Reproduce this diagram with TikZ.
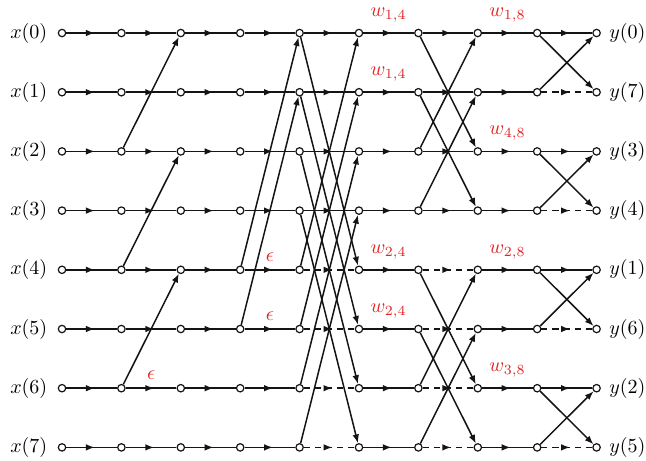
\documentclass[tikz,border=0pt]{standalone}
\usepackage{amsmath,amssymb}
\usepackage{xcolor}
\usepackage{tikz}
\usetikzlibrary{arrows.meta,positioning,decorations.markings}
\definecolor{figline}{RGB}{20,20,20}
\definecolor{figred}{RGB}{225,35,35}
\tikzset{
  vtx/.style   ={circle, draw=figline, fill=white, line width=0.6pt, inner sep=0pt, minimum size=3.7pt},
  fl/.style    ={draw=figline, line width=0.75pt},
  midarr/.style={fl, decoration={markings, mark=at position 0.56 with {\arrow{Latex[length=4.4pt,width=3.3pt]}}}, postaction={decorate}},
  dmidarr/.style={midarr, dash pattern=on 3pt off 2.5pt},
  dia/.style   ={fl, -{Latex[length=4.4pt,width=3.3pt]}},
  iolab/.style ={inner sep=1pt},
  wlab/.style  ={text=figred, inner sep=1pt, above=4pt},
  elab/.style  ={text=figred, inner sep=1pt, above=3pt},
}
\begin{document}
\begin{tikzpicture}[x=29.67pt,y=-29.57pt]
  \useasboundingbox (-1.044,-0.558) rectangle (9.832,7.225);
  % column 0
  \node[vtx] (n00) at (0,0) {};
  \node[vtx] (n01) at (0,1) {};
  \node[vtx] (n02) at (0,2) {};
  \node[vtx] (n03) at (0,3) {};
  \node[vtx] (n04) at (0,4) {};
  \node[vtx] (n05) at (0,5) {};
  \node[vtx] (n06) at (0,6) {};
  \node[vtx] (n07) at (0,7) {};
  % column 1
  \node[vtx] (n10) at (1,0) {};
  \node[vtx] (n11) at (1,1) {};
  \node[vtx] (n12) at (1,2) {};
  \node[vtx] (n13) at (1,3) {};
  \node[vtx] (n14) at (1,4) {};
  \node[vtx] (n15) at (1,5) {};
  \node[vtx] (n16) at (1,6) {};
  \node[vtx] (n17) at (1,7) {};
  % column 2
  \node[vtx] (n20) at (2,0) {};
  \node[vtx] (n21) at (2,1) {};
  \node[vtx] (n22) at (2,2) {};
  \node[vtx] (n23) at (2,3) {};
  \node[vtx] (n24) at (2,4) {};
  \node[vtx] (n25) at (2,5) {};
  \node[vtx] (n26) at (2,6) {};
  \node[vtx] (n27) at (2,7) {};
  % column 3
  \node[vtx] (n30) at (3,0) {};
  \node[vtx] (n31) at (3,1) {};
  \node[vtx] (n32) at (3,2) {};
  \node[vtx] (n33) at (3,3) {};
  \node[vtx] (n34) at (3,4) {};
  \node[vtx] (n35) at (3,5) {};
  \node[vtx] (n36) at (3,6) {};
  \node[vtx] (n37) at (3,7) {};
  % column 4
  \node[vtx] (n40) at (4,0) {};
  \node[vtx] (n41) at (4,1) {};
  \node[vtx] (n42) at (4,2) {};
  \node[vtx] (n43) at (4,3) {};
  \node[vtx] (n44) at (4,4) {};
  \node[vtx] (n45) at (4,5) {};
  \node[vtx] (n46) at (4,6) {};
  \node[vtx] (n47) at (4,7) {};
  % column 5
  \node[vtx] (n50) at (5,0) {};
  \node[vtx] (n51) at (5,1) {};
  \node[vtx] (n52) at (5,2) {};
  \node[vtx] (n53) at (5,3) {};
  \node[vtx] (n54) at (5,4) {};
  \node[vtx] (n55) at (5,5) {};
  \node[vtx] (n56) at (5,6) {};
  \node[vtx] (n57) at (5,7) {};
  % column 6
  \node[vtx] (n60) at (6,0) {};
  \node[vtx] (n61) at (6,1) {};
  \node[vtx] (n62) at (6,2) {};
  \node[vtx] (n63) at (6,3) {};
  \node[vtx] (n64) at (6,4) {};
  \node[vtx] (n65) at (6,5) {};
  \node[vtx] (n66) at (6,6) {};
  \node[vtx] (n67) at (6,7) {};
  % column 7
  \node[vtx] (n70) at (7,0) {};
  \node[vtx] (n71) at (7,1) {};
  \node[vtx] (n72) at (7,2) {};
  \node[vtx] (n73) at (7,3) {};
  \node[vtx] (n74) at (7,4) {};
  \node[vtx] (n75) at (7,5) {};
  \node[vtx] (n76) at (7,6) {};
  \node[vtx] (n77) at (7,7) {};
  % column 8
  \node[vtx] (n80) at (8,0) {};
  \node[vtx] (n81) at (8,1) {};
  \node[vtx] (n82) at (8,2) {};
  \node[vtx] (n83) at (8,3) {};
  \node[vtx] (n84) at (8,4) {};
  \node[vtx] (n85) at (8,5) {};
  \node[vtx] (n86) at (8,6) {};
  \node[vtx] (n87) at (8,7) {};
  % column 9
  \node[vtx] (n90) at (9,0) {};
  \node[vtx] (n91) at (9,1) {};
  \node[vtx] (n92) at (9,2) {};
  \node[vtx] (n93) at (9,3) {};
  \node[vtx] (n94) at (9,4) {};
  \node[vtx] (n95) at (9,5) {};
  \node[vtx] (n96) at (9,6) {};
  \node[vtx] (n97) at (9,7) {};
  % inputs and outputs
  \node[iolab,left=4pt of n00] (xin0) {$x(0)$};
  \node[iolab,left=4pt of n01] (xin1) {$x(1)$};
  \node[iolab,left=4pt of n02] (xin2) {$x(2)$};
  \node[iolab,left=4pt of n03] (xin3) {$x(3)$};
  \node[iolab,left=4pt of n04] (xin4) {$x(4)$};
  \node[iolab,left=4pt of n05] (xin5) {$x(5)$};
  \node[iolab,left=4pt of n06] (xin6) {$x(6)$};
  \node[iolab,left=4pt of n07] (xin7) {$x(7)$};
  \node[iolab,right=3pt of n90] (yout0) {$y(0)$};
  \node[iolab,right=3pt of n91] (yout7) {$y(7)$};
  \node[iolab,right=3pt of n92] (yout3) {$y(3)$};
  \node[iolab,right=3pt of n93] (yout4) {$y(4)$};
  \node[iolab,right=3pt of n94] (yout1) {$y(1)$};
  \node[iolab,right=3pt of n95] (yout6) {$y(6)$};
  \node[iolab,right=3pt of n96] (yout2) {$y(2)$};
  \node[iolab,right=3pt of n97] (yout5) {$y(5)$};
  % stage 0 -> 1
  \draw[midarr] (n00) -- (n10);
  \draw[midarr] (n01) -- (n11);
  \draw[midarr] (n02) -- (n12);
  \draw[midarr] (n03) -- (n13);
  \draw[midarr] (n04) -- (n14);
  \draw[midarr] (n05) -- (n15);
  \draw[midarr] (n06) -- (n16);
  \draw[midarr] (n07) -- (n17);
  % stage 1 -> 2
  \draw[midarr] (n10) -- (n20);
  \draw[midarr] (n11) -- (n21);
  \draw[midarr] (n12) -- (n22);
  \draw[midarr] (n13) -- (n23);
  \draw[midarr] (n14) -- (n24);
  \draw[midarr] (n15) -- (n25);
  \draw[midarr] (n16) -- node[elab] (eps1) {$\epsilon$} (n26);
  \draw[midarr] (n17) -- (n27);
  \draw[dia] (n12) -- (n20);
  \draw[dia] (n14) -- (n22);
  \draw[dia] (n16) -- (n24);
  % stage 2 -> 3
  \draw[midarr] (n20) -- (n30);
  \draw[midarr] (n21) -- (n31);
  \draw[midarr] (n22) -- (n32);
  \draw[midarr] (n23) -- (n33);
  \draw[midarr] (n24) -- (n34);
  \draw[midarr] (n25) -- (n35);
  \draw[midarr] (n26) -- (n36);
  \draw[midarr] (n27) -- (n37);
  % stage 3 -> 4
  \draw[midarr] (n30) -- (n40);
  \draw[midarr] (n31) -- (n41);
  \draw[midarr] (n32) -- (n42);
  \draw[midarr] (n33) -- (n43);
  \draw[midarr] (n34) -- node[elab] (eps2) {$\epsilon$} (n44);
  \draw[midarr] (n35) -- node[elab] (eps3) {$\epsilon$} (n45);
  \draw[midarr] (n36) -- (n46);
  \draw[midarr] (n37) -- (n47);
  \draw[dia] (n34) -- (n40);
  \draw[dia] (n35) -- (n41);
  % stage 4 -> 5
  \draw[midarr] (n40) -- (n50);
  \draw[midarr] (n41) -- (n51);
  \draw[midarr] (n42) -- (n52);
  \draw[midarr] (n43) -- (n53);
  \draw[dmidarr] (n44) -- (n54);
  \draw[dmidarr] (n45) -- (n55);
  \draw[dmidarr] (n46) -- (n56);
  \draw[dmidarr] (n47) -- (n57);
  \draw[dia] (n40) -- (n54);
  \draw[dia] (n41) -- (n55);
  \draw[dia] (n42) -- (n56);
  \draw[dia] (n43) -- (n57);
  \draw[dia] (n44) -- (n50);
  \draw[dia] (n45) -- (n51);
  \draw[dia] (n46) -- (n52);
  \draw[dia] (n47) -- (n53);
  % stage 5 -> 6
  \draw[midarr] (n50) -- node[wlab] (w14a) {$w_{1,4}$} (n60);
  \draw[midarr] (n51) -- node[wlab] (w14b) {$w_{1,4}$} (n61);
  \draw[midarr] (n52) -- (n62);
  \draw[midarr] (n53) -- (n63);
  \draw[midarr] (n54) -- node[wlab] (w24a) {$w_{2,4}$} (n64);
  \draw[midarr] (n55) -- node[wlab] (w24b) {$w_{2,4}$} (n65);
  \draw[midarr] (n56) -- (n66);
  \draw[midarr] (n57) -- (n67);
  % stage 6 -> 7
  \draw[midarr] (n60) -- (n70);
  \draw[midarr] (n61) -- (n71);
  \draw[midarr] (n62) -- (n72);
  \draw[midarr] (n63) -- (n73);
  \draw[dmidarr] (n64) -- (n74);
  \draw[dmidarr] (n65) -- (n75);
  \draw[dmidarr] (n66) -- (n76);
  \draw[dmidarr] (n67) -- (n77);
  \draw[dia] (n60) -- (n72);
  \draw[dia] (n61) -- (n73);
  \draw[dia] (n62) -- (n70);
  \draw[dia] (n63) -- (n71);
  \draw[dia] (n64) -- (n76);
  \draw[dia] (n65) -- (n77);
  \draw[dia] (n66) -- (n74);
  \draw[dia] (n67) -- (n75);
  % stage 7 -> 8
  \draw[midarr] (n70) -- node[wlab] (w18) {$w_{1,8}$} (n80);
  \draw[midarr] (n71) -- (n81);
  \draw[midarr] (n72) -- node[wlab] (w48) {$w_{4,8}$} (n82);
  \draw[midarr] (n73) -- (n83);
  \draw[midarr] (n74) -- node[wlab] (w28) {$w_{2,8}$} (n84);
  \draw[midarr] (n75) -- (n85);
  \draw[midarr] (n76) -- node[wlab] (w38) {$w_{3,8}$} (n86);
  \draw[midarr] (n77) -- (n87);
  % stage 8 -> 9
  \draw[midarr] (n80) -- (n90);
  \draw[dmidarr] (n81) -- (n91);
  \draw[midarr] (n82) -- (n92);
  \draw[dmidarr] (n83) -- (n93);
  \draw[midarr] (n84) -- (n94);
  \draw[dmidarr] (n85) -- (n95);
  \draw[midarr] (n86) -- (n96);
  \draw[dmidarr] (n87) -- (n97);
  \draw[dia] (n80) -- (n91);
  \draw[dia] (n81) -- (n90);
  \draw[dia] (n82) -- (n93);
  \draw[dia] (n83) -- (n92);
  \draw[dia] (n84) -- (n95);
  \draw[dia] (n85) -- (n94);
  \draw[dia] (n86) -- (n97);
  \draw[dia] (n87) -- (n96);
\end{tikzpicture}
\end{document}
